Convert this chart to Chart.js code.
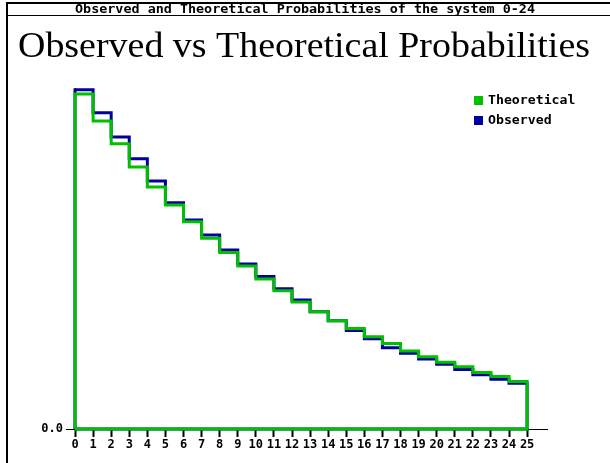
<!DOCTYPE html>
<html lang="en">
<head>
<meta charset="utf-8">
<title>Observed vs Theoretical Probabilities</title>
<script src="https://cdn.jsdelivr.net/npm/chart.js@4"></script>
<style>
  html, body { margin: 0; padding: 0; background: #fff; }
  #wrap { width: 610px; height: 463px; }
</style>
</head>
<body>
<div id="wrap"><canvas id="graph" width="610" height="463"></canvas></div>
<script>
// states 0..24 of the system, probability of each state
const states = [0, 1, 2, 3, 4, 5, 6, 7, 8, 9, 10, 11, 12, 13, 14, 15, 16, 17, 18, 19, 20, 21, 22, 23, 24];
const theoretical = [0.0894, 0.0822, 0.0761, 0.0699, 0.0646, 0.0598, 0.0553, 0.0509, 0.0471, 0.0435,
                     0.0400, 0.0369, 0.0339, 0.0313, 0.0289, 0.0268, 0.0246, 0.0228, 0.0208, 0.0193,
                     0.0178, 0.0166, 0.0151, 0.0140, 0.0127];
const observed = [0.0905, 0.0844, 0.0779, 0.0721, 0.0662, 0.0604, 0.0558, 0.0518, 0.0478, 0.0440,
                  0.0407, 0.0374, 0.0344, 0.0313, 0.0289, 0.0263, 0.0241, 0.0217, 0.0202, 0.0187,
                  0.0173, 0.0159, 0.0145, 0.0133, 0.0122];
const xTickLabels = ['0', '1', '2', '3', '4', '5', '6', '7', '8', '9', '10', '11', '12', '13', '14',
                     '15', '16', '17', '18', '19', '20', '21', '22', '23', '24', '25'];
const headerText = 'Observed and Theoretical Probabilities of the system 0-24';
const titleText = 'Observed vs Theoretical Probabilities';

// closed step outline: up at 0, one step per state, down at 25, back along the floor
function stepOutline(vals) {
    const pts = [{ x: 0, y: 0 }];
    vals.forEach((v, i) => pts.push({ x: states[i], y: v }));
    pts.push({ x: vals.length, y: vals[vals.length - 1] });
    pts.push({ x: vals.length, y: 0 });
    pts.push({ x: 0, y: 0 });
    return pts;
}

const MONO = '"DejaVu Sans Mono", "Liberation Mono", monospace';

// squeeze/stretch text to a given pixel width
function fitText(ctx, text, cx, y, width) {
    const w = ctx.measureText(text).width;
    ctx.save();
    ctx.translate(cx, y);
    ctx.scale(width / w, 1);
    ctx.textAlign = 'center';
    ctx.fillText(text, 0, 0);
    ctx.restore();
}

const framePlugin = {
    id: 'frame',
    beforeDraw(chart) {
        const ctx = chart.ctx;
        ctx.save();
        ctx.fillStyle = '#fff';
        ctx.fillRect(0, 0, chart.width, chart.height);
        ctx.restore();
    },
    afterDraw(chart) {
        const ctx = chart.ctx;
        ctx.save();
        ctx.strokeStyle = '#000';
        ctx.lineWidth = 2;
        ctx.beginPath();
        ctx.moveTo(7, 463); ctx.lineTo(7, 3); ctx.lineTo(610, 3);
        ctx.stroke();
        ctx.lineWidth = 1;
        ctx.beginPath();
        ctx.moveTo(7, 15.5); ctx.lineTo(610, 15.5);
        ctx.stroke();

        ctx.fillStyle = '#000';
        ctx.textBaseline = 'alphabetic';
        ctx.font = 'bold 12px ' + MONO;
        fitText(ctx, headerText, 305, 12.5, 460);

        ctx.font = '35px "Liberation Serif", "DejaVu Serif", serif';
        fitText(ctx, titleText, 304, 57, 572);

        // legend
        const items = [
            { label: chart.data.datasets[0].label, color: chart.data.datasets[0].borderColor, y: 100 },
            { label: chart.data.datasets[1].label, color: chart.data.datasets[1].borderColor, y: 120 }
        ];
        ctx.font = 'bold 12px ' + MONO;
        ctx.textBaseline = 'middle';
        for (const it of items) {
            ctx.fillStyle = it.color;
            ctx.fillRect(474, it.y - 4, 9, 9);
            ctx.fillStyle = '#000';
            const w = ctx.measureText(it.label).width;
            const target = w * 1.1;
            fitText(ctx, it.label, 488 + target / 2, it.y + 1, target);
        }
        ctx.restore();
    }
};

const graph = new Chart(document.getElementById('graph').getContext('2d'), {
    type: 'line',
    data: {
        datasets: [{
            label: 'Theoretical',
            data: stepOutline(theoretical),
            borderColor: '#00c000',
            backgroundColor: '#00c000',
            borderWidth: 3,
            stepped: true,
            pointRadius: 0,
            fill: false,
            clip: false
        }, {
            label: 'Observed',
            data: stepOutline(observed),
            borderColor: '#0000a0',
            backgroundColor: '#0000a0',
            borderWidth: 3,
            stepped: true,
            pointRadius: 0,
            fill: false,
            clip: false
        }]
    },
    options: {
        responsive: false,
        animation: false,
        layout: { padding: { top: 88, left: 0, right: 63, bottom: 0 } },
        plugins: {
            legend: { display: false },
            title: { display: false },
            tooltip: { enabled: false }
        },
        scales: {
            x: {
                type: 'linear',
                min: 0,
                max: 26.1,
                afterBuildTicks: (scale) => {
                    scale.ticks = xTickLabels.map((t, i) => ({ value: i }));
                },
                afterFit: (scale) => { scale.height = 34; },
                grid: { drawOnChartArea: false, color: '#000', tickLength: 8, tickWidth: 2 },
                border: { color: '#000', width: 1 },
                ticks: {
                    autoSkip: false,
                    maxRotation: 0,
                    padding: 1,
                    color: '#000',
                    font: { family: MONO, size: 12, weight: 'bold' },
                    callback: (v, i) => xTickLabels[i]
                }
            },
            y: {
                min: 0,
                max: 0.0910,
                afterBuildTicks: (scale) => { scale.ticks = [{ value: 0 }]; },
                afterFit: (scale) => { scale.width = 75; },
                grid: { drawOnChartArea: false, color: '#000', tickLength: 9 },
                border: { color: '#000', width: 1 },
                ticks: {
                    padding: 3,
                    color: '#000',
                    font: { family: MONO, size: 12, weight: 'bold' },
                    callback: () => '0.0'
                }
            }
        }
    },
    plugins: [framePlugin]
});
</script>
</body>
</html>
